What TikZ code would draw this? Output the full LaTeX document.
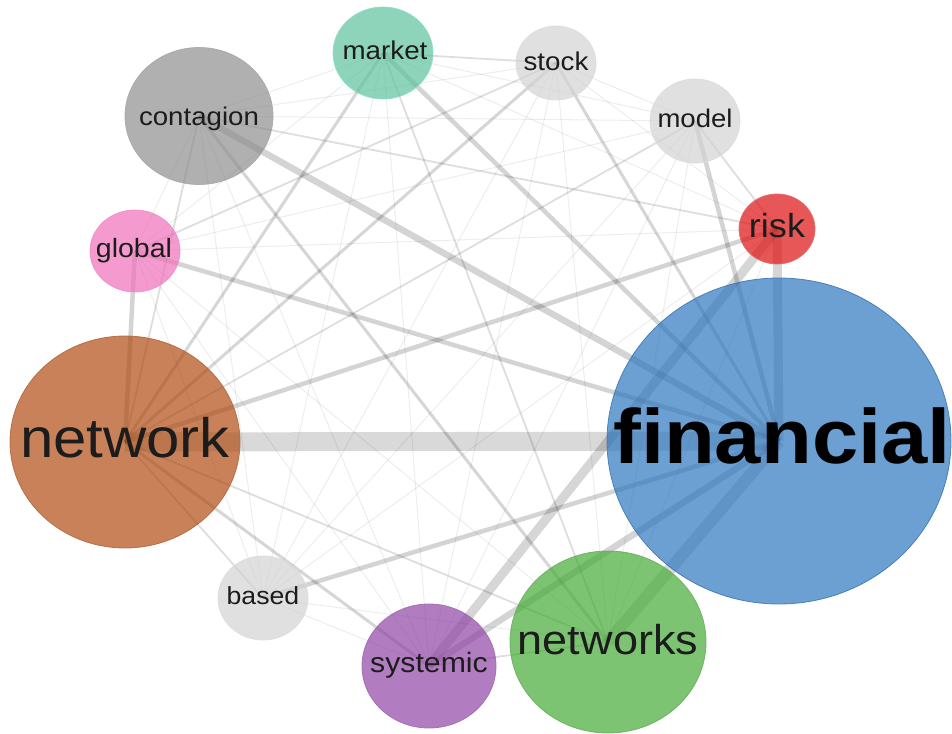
\documentclass[tikz,border=0pt]{standalone}
\usepackage{graphicx}
\usepackage{fontspec}
\setmainfont{Liberation Sans}
\usetikzlibrary{shapes.geometric}

% bubble fills (laid down at 70% over the links) and their rims
\definecolor{cFin}{HTML}{2D77BF}  \definecolor{cFinD}{HTML}{3F78B4}
\definecolor{cNet}{HTML}{B04C13}  \definecolor{cNetD}{HTML}{B06A42}
\definecolor{cNets}{HTML}{44AB36} \definecolor{cNetsD}{HTML}{6AB05E}
\definecolor{cSys}{HTML}{9045A5}  \definecolor{cSysD}{HTML}{A06AB0}
\definecolor{cMar}{HTML}{5CC29D}  \definecolor{cMarD}{HTML}{8CE0C0}
\definecolor{cCon}{HTML}{8E8E8E}  \definecolor{cConD}{HTML}{A8A8A8}
\definecolor{cGlo}{HTML}{EF6FBA}  \definecolor{cGloD}{HTML}{EE90C6}
\definecolor{cRis}{HTML}{DE1010}  \definecolor{cRisD}{HTML}{E06A6A}
\definecolor{cLite}{HTML}{D3D3D3} \definecolor{cLiteD}{HTML}{DCDCDC}
\definecolor{txt}{HTML}{1C1C1C}

% word set slightly wide, size in pt
\newcommand\wordlbl[2]{\scalebox{1.08}[1]{\fontsize{#1}{#1}\selectfont #2}}

\tikzset{
  bubble/.style={ellipse, inner sep=0pt, line width=0.8pt, fill opacity=0.7, draw opacity=0.9},
  lbl/.style={anchor=base, inner sep=0pt, text=txt},
  link/.style={line cap=butt, draw=black},
  w1/.style={link, line width=1pt, draw opacity=0.07},
  w2/.style={link, line width=1.8pt, draw opacity=0.13},
  w3/.style={link, line width=3pt, draw opacity=0.16},
  w4/.style={link, line width=4.5pt, draw opacity=0.17},
  w5/.style={link, line width=6.5pt, draw opacity=0.17},
  w6/.style={link, line width=9pt, draw opacity=0.16},
  w7/.style={link, line width=12pt, draw opacity=0.15},
  w8/.style={link, line width=19pt, draw opacity=0.15},
}

\begin{document}
\begin{tikzpicture}[x=1pt, y=-1pt]
\useasboundingbox (0,0) rectangle (952,733);

% anchor points of the bubbles
\coordinate (fin)  at (779,441);
\coordinate (net)  at (125,442);
\coordinate (nets) at (608,642);
\coordinate (sys)  at (429,666);
\coordinate (bas)  at (263,598);
\coordinate (glo)  at (135,251);
\coordinate (con)  at (199,116);
\coordinate (mar)  at (383,53);
\coordinate (sto)  at (556,63);
\coordinate (mod)  at (695,121);
\coordinate (ris)  at (777,229);

% co-occurrence links, centre to centre
\foreach \a/\b/\s in {
  con/sys/w1, con/mar/w1, con/sto/w1, con/glo/w1, con/mod/w1, con/bas/w1,
  glo/ris/w1, glo/mar/w1, glo/mod/w1, glo/nets/w1, glo/sys/w1, glo/bas/w1,
  mar/ris/w1, mar/mod/w1, mar/sys/w1, mar/bas/w1,
  sto/ris/w1, sto/mod/w1, sto/sys/w1, sto/nets/w1, sto/bas/w1,
  mod/sys/w1, mod/nets/w1, mod/bas/w1, ris/bas/w1, ris/nets/w1,
  sys/bas/w1, nets/bas/w1,
  glo/sto/w2, mar/sto/w2, mar/nets/w2, mod/ris/w2, sys/nets/w2,
  con/ris/w2, net/mod/w2, net/bas/w2, net/con/w2, net/nets/w2,
  net/mar/w3, net/sto/w3, net/sys/w3, con/nets/w3, fin/sto/w3,
  net/ris/w4, net/glo/w4, fin/mar/w4, fin/mod/w4, fin/glo/w4, fin/bas/w4,
  fin/sys/w5, fin/con/w5,
  fin/ris/w6, sys/ris/w6,
  fin/nets/w7,
  fin/net/w8}
  \draw[\s] (\a) -- (\b);

% bubbles over the links
\node[bubble, fill=cFin,  draw=cFinD,  minimum width=344, minimum height=326] (bfin)  at (fin)  {};
\node[bubble, fill=cNet,  draw=cNetD,  minimum width=230, minimum height=212] (bnet)  at (net)  {};
\node[bubble, fill=cNets, draw=cNetsD, minimum width=196, minimum height=182] (bnets) at (nets) {};
\node[bubble, fill=cSys,  draw=cSysD,  minimum width=134, minimum height=124] (bsys)  at (sys)  {};
\node[bubble, fill=cLite, draw=cLiteD, minimum width=90,  minimum height=84]  (bbas)  at (bas)  {};
\node[bubble, fill=cGlo,  draw=cGloD,  minimum width=90,  minimum height=82]  (bglo)  at (glo)  {};
\node[bubble, fill=cCon,  draw=cConD,  minimum width=148, minimum height=137] (bcon)  at (con)  {};
\node[bubble, fill=cMar,  draw=cMarD,  minimum width=100, minimum height=92]  (bmar)  at (mar)  {};
\node[bubble, fill=cLite, draw=cLiteD, minimum width=80,  minimum height=74]  (bsto)  at (sto)  {};
\node[bubble, fill=cLite, draw=cLiteD, minimum width=90,  minimum height=84]  (bmod)  at (mod)  {};
\node[bubble, fill=cRis,  draw=cRisD,  minimum width=76,  minimum height=70]  (bris)  at (ris)  {};

% words
\node[lbl, text=black] (tfin)  at (782,463) {\wordlbl{77}{\bfseries financial}};
\node[lbl] (tnet)  at (125,457) {\wordlbl{55.5}{network}};
\node[lbl] (tnets) at (608,654) {\wordlbl{41.7}{networks}};
\node[lbl] (tsys)  at (429,672) {\wordlbl{28}{systemic}};
\node[lbl] (tbas)  at (263,604) {\wordlbl{24.7}{based}};
\node[lbl] (tglo)  at (134,257) {\wordlbl{26.4}{global}};
\node[lbl] (tcon)  at (199,125) {\wordlbl{25.6}{contagion}};
\node[lbl] (tmar)  at (385,60)  {\wordlbl{25.7}{market}};
\node[lbl] (tsto)  at (556,71)  {\wordlbl{25.7}{stock}};
\node[lbl] (tmod)  at (695,128) {\wordlbl{25.5}{model}};
\node[lbl] (tris)  at (777,237) {\wordlbl{33.4}{risk}};
\end{tikzpicture}
\end{document}
